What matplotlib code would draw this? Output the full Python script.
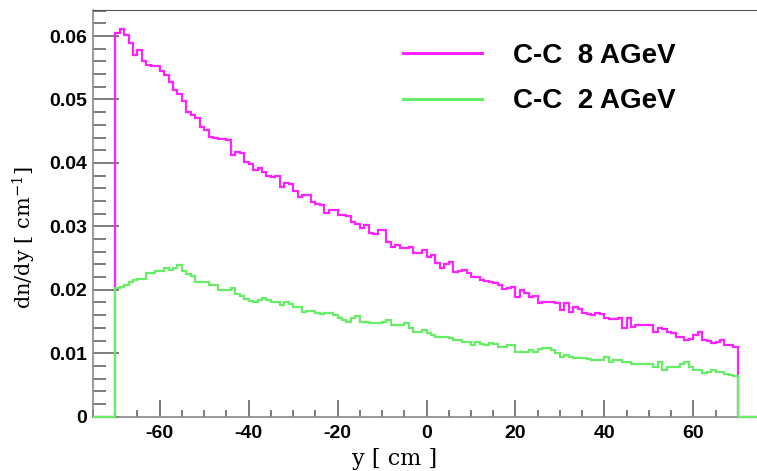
import numpy as np
import matplotlib

matplotlib.use("Agg")
import matplotlib.pyplot as plt
from matplotlib.ticker import MultipleLocator

# 1 cm bins from -70 to 70 cm, histogram range -75..75 (empty outside +-70)
bin_lo, bin_hi = -70, 70
hist_lo, hist_hi = -75, 75

cc8 = [
    0.0605, 0.0611, 0.0602, 0.0589, 0.0570, 0.0578, 0.0560, 0.0555, 0.0552, 0.0553,
    0.0545, 0.0538, 0.0528, 0.0515, 0.0508, 0.0497, 0.0480, 0.0476, 0.0470, 0.0456,
    0.0452, 0.0441, 0.0439, 0.0437, 0.0438, 0.0436, 0.0413, 0.0417, 0.0415, 0.0402,
    0.0398, 0.0389, 0.0392, 0.0386, 0.0380, 0.0378, 0.0380, 0.0362, 0.0368, 0.0366,
    0.0355, 0.0347, 0.0350, 0.0349, 0.0339, 0.0336, 0.0334, 0.0321, 0.0326, 0.0326,
    0.0318, 0.0318, 0.0317, 0.0307, 0.0303, 0.0297, 0.0302, 0.0289, 0.0288, 0.0294,
    0.0294, 0.0276, 0.0268, 0.0270, 0.0266, 0.0266, 0.0268, 0.0258, 0.0258, 0.0263,
    0.0252, 0.0255, 0.0242, 0.0234, 0.0240, 0.0244, 0.0228, 0.0230, 0.0231, 0.0226,
    0.0220, 0.0220, 0.0215, 0.0214, 0.0212, 0.0210, 0.0207, 0.0202, 0.0203, 0.0204,
    0.0189, 0.0200, 0.0195, 0.0189, 0.0190, 0.0179, 0.0180, 0.0181, 0.0181, 0.0179,
    0.0168, 0.0179, 0.0165, 0.0173, 0.0170, 0.0163, 0.0162, 0.0160, 0.0163, 0.0162,
    0.0156, 0.0154, 0.0154, 0.0156, 0.0140, 0.0156, 0.0142, 0.0145, 0.0145, 0.0145,
    0.0144, 0.0134, 0.0140, 0.0138, 0.0134, 0.0132, 0.0126, 0.0126, 0.0121, 0.0123,
    0.0128, 0.0134, 0.0121, 0.0119, 0.0116, 0.0118, 0.0121, 0.0113, 0.0113, 0.0110,
]

cc2 = [
    0.0203, 0.0205, 0.0208, 0.0213, 0.0215, 0.0217, 0.0217, 0.0226, 0.0226, 0.0229,
    0.0229, 0.0234, 0.0232, 0.0234, 0.0239, 0.0229, 0.0225, 0.0221, 0.0213, 0.0213,
    0.0213, 0.0208, 0.0208, 0.0200, 0.0200, 0.0200, 0.0203, 0.0193, 0.0190, 0.0185,
    0.0183, 0.0181, 0.0184, 0.0187, 0.0184, 0.0181, 0.0181, 0.0176, 0.0181, 0.0178,
    0.0173, 0.0173, 0.0165, 0.0167, 0.0167, 0.0163, 0.0162, 0.0163, 0.0163, 0.0160,
    0.0156, 0.0153, 0.0150, 0.0155, 0.0158, 0.0150, 0.0150, 0.0148, 0.0148, 0.0148,
    0.0150, 0.0153, 0.0145, 0.0145, 0.0145, 0.0148, 0.0140, 0.0134, 0.0134, 0.0137,
    0.0132, 0.0129, 0.0126, 0.0126, 0.0125, 0.0124, 0.0121, 0.0121, 0.0118, 0.0118,
    0.0113, 0.0118, 0.0115, 0.0113, 0.0116, 0.0114, 0.0110, 0.0110, 0.0113, 0.0113,
    0.0102, 0.0102, 0.0102, 0.0105, 0.0102, 0.0107, 0.0108, 0.0108, 0.0105, 0.0100,
    0.0094, 0.0097, 0.0094, 0.0092, 0.0092, 0.0092, 0.0091, 0.0090, 0.0089, 0.0089,
    0.0094, 0.0087, 0.0089, 0.0089, 0.0087, 0.0086, 0.0083, 0.0083, 0.0083, 0.0083,
    0.0083, 0.0078, 0.0086, 0.0074, 0.0078, 0.0078, 0.0078, 0.0083, 0.0086, 0.0078,
    0.0074, 0.0074, 0.0069, 0.0071, 0.0074, 0.0071, 0.0071, 0.0068, 0.0066, 0.0064,
]

labels = ["C-C  8 AGeV", "C-C  2 AGeV"]
colors = ["#ff22ff", "#66ee66"]

plt.rcParams["axes.unicode_minus"] = False
plt.rcParams["mathtext.fontset"] = "dejavuserif"

W, H = 757, 471
fig = plt.figure(figsize=(W / 100, H / 100), dpi=100)
ax = fig.add_axes([93 / W, 1 - 416.7 / H, (760 - 93) / W, (416.7 - 10) / H])

edges = np.concatenate([[hist_lo], np.arange(bin_lo, bin_hi + 1), [hist_hi]])
for vals, col, lab in zip([cc8, cc2], colors, labels):
    padded = np.concatenate([[0.0], vals, [0.0]])
    ax.stairs(padded, edges, color=col, lw=1.6, label=lab, clip_on=False,
              zorder=3)

ax.set_xlim(hist_lo, hist_hi)
ax.set_ylim(0, 0.0641)

ax.xaxis.set_major_locator(MultipleLocator(20))
ax.xaxis.set_minor_locator(MultipleLocator(5))
ax.yaxis.set_major_locator(MultipleLocator(0.01))
ax.yaxis.set_minor_locator(MultipleLocator(0.002))
ax.yaxis.set_major_formatter(lambda v, p: "0" if v == 0 else f"{v:.2f}")

ax.tick_params(which="both", direction="in", colors="#666666",
               labelcolor="black", top=False, right=False)
ax.tick_params(axis="y", which="major", length=19, width=1.2, pad=4)
ax.tick_params(axis="y", which="minor", length=9, width=1.2)
ax.tick_params(axis="x", which="major", length=12, width=1.2, pad=6)
ax.tick_params(axis="x", which="minor", length=5, width=1.2)
for lbl in ax.get_xticklabels() + ax.get_yticklabels():
    lbl.set_fontfamily("Liberation Sans")
    lbl.set_fontweight("bold")
    lbl.set_fontsize(14)

for side in ["left", "bottom"]:
    ax.spines[side].set_color("#888888")
    ax.spines[side].set_linewidth(1.2)
ax.spines["top"].set_color("#555555")
ax.spines["right"].set_visible(False)

fig.text(395 / W, 1 - 459 / H, "y [ cm ]", ha="center", va="center",
         family="DejaVu Serif", fontsize=16)
fig.text(24 / W, 1 - 238 / H, "dn/dy [ cm$^{-1}$]", ha="center", va="center",
         rotation=90, family="DejaVu Serif", fontsize=15)

ax.legend(loc="upper left", bbox_to_anchor=(378 / W, 1 - 18 / H),
          bbox_transform=fig.transFigure, frameon=False,
          handlelength=2.85, handletextpad=1.1, labelspacing=0.7,
          prop={"family": "Liberation Sans", "weight": "bold", "size": 20})
leg = ax.get_legend()
for h in leg.legend_handles:
    h.set_linewidth(2.2)

fig.savefig("out.png", dpi=100)
